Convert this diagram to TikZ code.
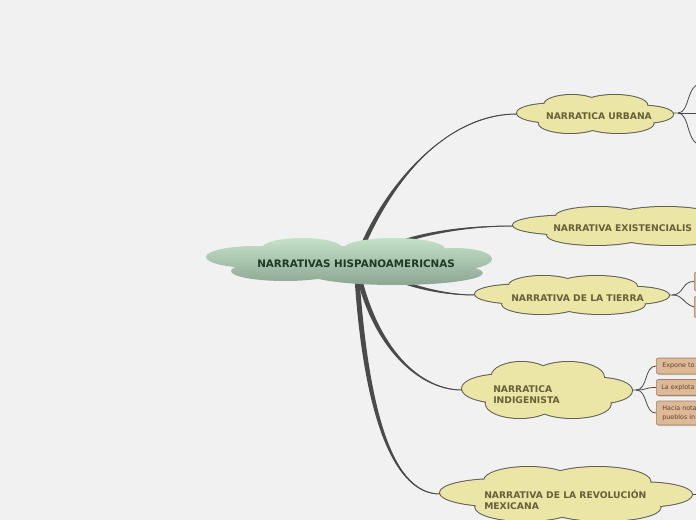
\documentclass[tikz,border=0pt]{standalone}
\usepackage{fontspec}
\setmainfont{DejaVu Sans}
\usetikzlibrary{calc,shadows}
\definecolor{bgc}{HTML}{F1F1F1}
\definecolor{linkc}{HTML}{4A4A4A}
\definecolor{cloudfill}{HTML}{EBE6A6}
\definecolor{cloudline}{HTML}{5F5F55}
\definecolor{cloudtext}{HTML}{66603A}
\definecolor{roottop}{HTML}{C4E2C8}
\definecolor{rootbot}{HTML}{8DA692}
\definecolor{roottext}{HTML}{1D3A24}
\definecolor{boxfill}{HTML}{DFB896}
\definecolor{boxline}{HTML}{9A806A}
\definecolor{boxtext}{HTML}{5A4632}
\newcommand\cloudpath[5]{%
\path[#5] ({#1-0.55*#3},{#2-0.05*#4}) ellipse [x radius={0.45*#3}, y radius={0.5*#4}]
 ({#1-0.3*#3},{#2-0.5*#4}) ellipse [x radius={0.35*#3}, y radius={0.5*#4}]
 ({#1+0.25*#3},{#2-0.46*#4}) ellipse [x radius={0.42*#3}, y radius={0.54*#4}]
 ({#1+0.62*#3},{#2+0.02*#4}) ellipse [x radius={0.38*#3}, y radius={0.45*#4}]
 ({#1-0.32*#3},{#2+0.48*#4}) ellipse [x radius={0.4*#3}, y radius={0.52*#4}]
 ({#1+0.3*#3},{#2+0.5*#4}) ellipse [x radius={0.45*#3}, y radius={0.5*#4}]
 (#1,#2) ellipse [x radius={0.8*#3}, y radius={0.7*#4}];}
\newcommand\ycloud[4]{\cloudpath{#1}{#2}{#3}{#4}{draw=cloudline,line width=1.5pt}\cloudpath{#1}{#2}{#3}{#4}{fill=cloudfill}}
\tikzset{
  ctext/.style={text=cloudtext, font=\fontsize{6.9}{8.3}\selectfont\bfseries, inner sep=0pt, align=left},
  rtext/.style={text=roottext, font=\fontsize{7.75}{9}\selectfont\bfseries, inner sep=0pt},
  boxn/.style={draw=boxline, fill=boxfill, rounded corners=1.5pt, anchor=west,
    inner sep=0pt, minimum width=60pt, minimum height=12pt,
    drop shadow={shadow xshift=0.8pt, shadow yshift=-0.8pt, opacity=0.35}},
  btext/.style={text=boxtext, font=\fontsize{4.8}{6.6}\selectfont, align=left, inner sep=0pt, anchor=west},
  thin/.style={draw=linkc, line width=0.75pt},
}
\begin{document}
\begin{tikzpicture}[x=0.75pt,y=-0.75pt]
\useasboundingbox (0,0) rectangle (696,520);
\fill[bgc] (0,0) rectangle (696,520);
\clip (0,0) rectangle (696,520);
% named anchor points
\coordinate (rootc) at (356,262);
\coordinate (urbL) at (517,114);
\coordinate (exiL) at (513,226);
\coordinate (tieL) at (475,295);
\coordinate (indL) at (462,390);
\coordinate (revL) at (440,494);
\coordinate (urbR) at (673,113);
\coordinate (tieR) at (669,295);
\coordinate (indR) at (632,390);
\coordinate (revR) at (693,494);
\coordinate (u1) at (702,83);
\coordinate (u2) at (702,113);
\coordinate (u3) at (702,145);
\coordinate (r1) at (705,494);
% main tapered connectors
\fill[linkc] ($(rootc)+(2.4,0)$) .. controls (388,185) and (445,112.8) .. (urbL) .. controls (445,115.2) and (382,185) .. ($(rootc)-(2.4,0)$) -- cycle;
\draw[thin] (rootc) .. controls (385,185) and (445,114) .. (urbL);
\fill[linkc] ($(rootc)+(0,2)$) .. controls (400,237) and (460,227) .. (exiL) .. controls (460,225) and (400,233) .. ($(rootc)-(0,2)$) -- cycle;
\draw[thin] (rootc) .. controls (400,235) and (460,226) .. (exiL);
\fill[linkc] ($(rootc)+(0,2)$) .. controls (400,287) and (440,296) .. (tieL) .. controls (440,294) and (400,283) .. ($(rootc)-(0,2)$) -- cycle;
\draw[thin] (rootc) .. controls (400,285) and (440,295) .. (tieL);
\fill[linkc] ($(rootc)+(2.4,0)$) .. controls (373,340) and (415,388.8) .. (indL) .. controls (415,391.2) and (367,340) .. ($(rootc)-(2.4,0)$) -- cycle;
\draw[thin] (rootc) .. controls (370,340) and (415,390) .. (indL);
\fill[linkc] ($(rootc)+(2.4,0)$) .. controls (368,420) and (395,492.8) .. (revL) .. controls (395,495.2) and (362,420) .. ($(rootc)-(2.4,0)$) -- cycle;
\draw[thin] (rootc) .. controls (365,420) and (395,494) .. (revL);
% root cloud
\shade[top color=roottop, bottom color=rootbot]
 (255,257) ellipse [x radius=49, y radius=11]
 (302,248) ellipse [x radius=40, y radius=10]
 (394,249) ellipse [x radius=51, y radius=11]
 (455,259) ellipse [x radius=37, y radius=11]
 (285,271) ellipse [x radius=54, y radius=10]
 (395,273) ellipse [x radius=88, y radius=12]
 (356,262) ellipse [x radius=125, y radius=16];
\node[rtext, anchor=west] (root) at (257,264) {NARRATIVAS HISPANOAMERICNAS};
% child clouds
\ycloud{595}{114}{78}{19}
\ycloud{635}{226}{122}{19}
\ycloud{572}{295}{97}{19}
\ycloud{547}{390}{85}{28}
\ycloud{566}{494}{126}{27}
\node[ctext] (urb) at (599,116) {NARRATICA URBANA};
\node[ctext, anchor=west] (exi) at (553,228) {NARRATIVA EXISTENCIALIS};
\node[ctext, anchor=west] (tie) at (511,298) {NARRATIVA DE LA TIERRA};
\node[ctext, anchor=west] (ind) at (493,395) {NARRATICA\\INDIGENISTA};
\node[ctext, anchor=west] (rev) at (484,499.5) {NARRATIVA DE LA REVOLUCIÓN\\MEXICANA};
% sub-branches of urbana
\draw[thin, line width=0.6pt] (urbR) -- (678,113) .. controls (690,113) and (686,84) .. (u1);
\draw[thin, line width=0.6pt] (678,113) -- (u2);
\draw[thin, line width=0.6pt] (678,113) .. controls (690,113) and (686,145) .. (u3);
% tierra children
\node[boxn, minimum height=14pt] (tb1) at (694,281.5) {};
\node[boxn, minimum height=16pt] (tb2) at (694,307) {};
\draw[thin, line width=0.6pt] (tieR) -- (672,295) .. controls (684,295) and (682,281) .. (tb1.west);
\draw[thin, line width=0.6pt] (672,295) .. controls (684,295) and (682,303) .. (tb2.west);
% indigenista children
\node[boxn] (b1) at (656,366) {};
\node[boxn] (b2) at (656,387.5) {};
\node[boxn, minimum height=18pt] (b3) at (656,413) {};
\node[btext] (t1) at (662,366) {Expone to};
\node[btext] (t2) at (661,387.5) {La explota};
\node[btext] (t3) at (662,413) {Hacia nota\\pueblos in};
\draw[thin, line width=0.6pt] (indR) -- (636,390) .. controls (648,390) and (644,366) .. (b1.west);
\draw[thin, line width=0.6pt] (636,390) .. controls (648,390) and (644,387.5) .. (b2.west);
\draw[thin, line width=0.6pt] (636,390) .. controls (648,390) and (644,413) .. (b3.west);
% revolucion child line
\draw[thin, line width=0.6pt] (revR) -- (r1);
\end{tikzpicture}
\end{document}
